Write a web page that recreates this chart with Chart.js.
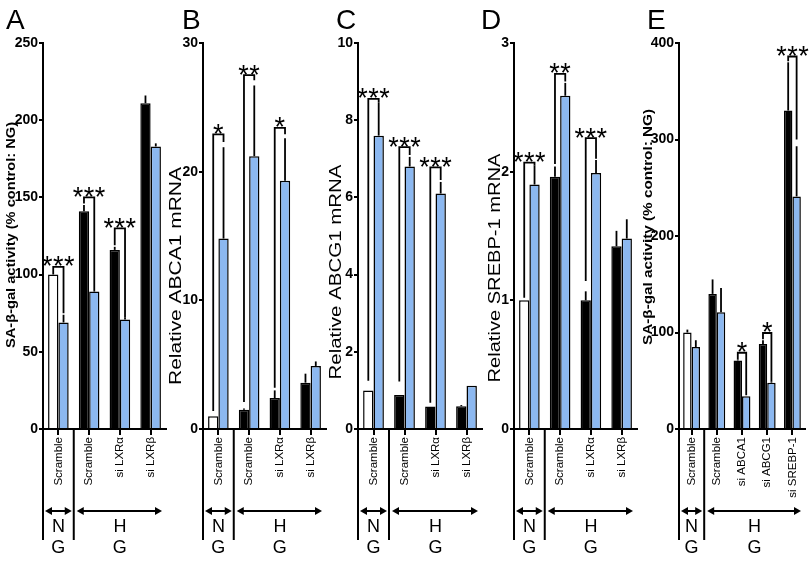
<!DOCTYPE html>
<html><head><meta charset="utf-8">
<script src="https://cdn.jsdelivr.net/npm/chart.js@4.4.1/dist/chart.umd.min.js"></script>
<style>
html,body{margin:0;padding:0;background:#fff;}
#wrap{position:relative;width:812px;height:562px;overflow:hidden;background:#fff;}
canvas{position:absolute;top:0;}
</style></head><body>
<div id="wrap">
<canvas id="cA" width="172" height="562" style="left:0px"></canvas>
<canvas id="cB" width="172" height="562" style="left:160px"></canvas>
<canvas id="cC" width="173" height="562" style="left:315px"></canvas>
<canvas id="cD" width="172" height="562" style="left:471px"></canvas>
<canvas id="cE" width="175" height="562" style="left:636px"></canvas>
</div>
<script>
// ---------- data ----------
const catsLXR = ['Scramble', 'Scramble', 'si LXRα', 'si LXRβ'];
const catsE = ['Scramble', 'Scramble', 'si ABCA1', 'si ABCG1', 'si SREBP-1'];

const ticksA = [0, 50, 100, 150, 200, 250];
const aFirst = [100, 141, 116, 211];
const aFirstErr = [0, 4, 2, 5];
const aBlue = [69, 89, 71, 183];
const aBlueErr = [5, 1, 1, 2];
// [category, bracket value, left leg end, right leg end, label]
const aSig = [[0, 105, 100, 75, '***'], [1, 150, 146, 90, '***'], [2, 130, 119, 72, '***']];

const ticksB = [0, 10, 20, 30];
const bFirst = [1, 1.5, 2.4, 3.6];
const bFirstErr = [0, 0.1, 0.6, 0.7];
const bBlue = [14.8, 21.2, 19.3, 4.9];
const bBlueErr = [7.1, 5.5, 3.3, 0.35];
const bSig = [[0, 22.9, 1.4, 22.3, '*'], [1, 27.5, 2.1, 27.1, '**'], [2, 23.4, 3.2, 22.9, '*']];

const ticksC = [0, 2, 4, 6, 8, 10];
const cFirst = [1.0, 0.88, 0.58, 0.59];
const cFirstErr = [0, 0, 0, 0.03];
const cBlue = [7.6, 6.8, 6.1, 1.12];
const cBlueErr = [0.85, 0.25, 0.3, 0];
const cSig = [[0, 8.55, 1.25, 8.45, '***'], [1, 7.3, 1.23, 7.1, '***'], [2, 6.78, 0.68, 6.45, '***']];

const ticksD = [0, 1, 2, 3];
const dFirst = [1.0, 1.96, 1.0, 1.42];
const dFirstErr = [0, 0.08, 0.07, 0.12];
const dBlue = [1.9, 2.59, 1.99, 1.48];
const dBlueErr = [0.15, 0.1, 0.1, 0.15];
const dSig = [[0, 2.07, 1.02, 2.05, '***'], [1, 2.76, 2.06, 2.7, '**'], [2, 2.26, 1.15, 2.1, '***']];

const ticksE = [0, 100, 200, 300, 400];
const eFirst = [100, 140, 71, 88, 330];
const eFirstErr = [3, 15, 1, 4, 50];
const eBlue = [85, 121, 34, 48, 241];
const eBlueErr = [7, 25, 0, 1, 52];
const eSig = [[2, 79, 72, 35, '*'], [3, 99.5, 93, 49, '*'], [4, 386, 381, 300, '***']];

// ---------- styling ----------
const FONT = '"Liberation Sans", Arial, Helvetica, sans-serif';
const BLUE = '#8cb8f0';
Chart.defaults.font.family = FONT;

// use a narrow face for the category labels if it is installed
const mc = document.createElement('canvas').getContext('2d');
mc.font = '14px "Liberation Sans Narrow", monospace';
const wNarrow = mc.measureText('Scramble').width;
mc.font = '14px monospace';
const wMono = mc.measureText('Scramble').width;
const HAS_NARROW = Math.abs(wNarrow - wMono) > 0.5;
const X_FONT = HAS_NARROW ? { family: '"Liberation Sans Narrow", ' + FONT, size: 14 } : { size: 11.5 };

function arrow(c, x1, x2, y) {
  const hl = 7, hw = 4;
  c.beginPath(); c.moveTo(x1 + hl - 1, y); c.lineTo(x2 - hl + 1, y); c.stroke();
  c.beginPath(); c.moveTo(x1, y); c.lineTo(x1 + hl, y - hw); c.lineTo(x1 + hl, y + hw); c.closePath(); c.fill();
  c.beginPath(); c.moveTo(x2, y); c.lineTo(x2 - hl, y - hw); c.lineTo(x2 - hl, y + hw); c.closePath(); c.fill();
}

function decor(cfg) {
  return {
    id: 'decor' + cfg.id,
    afterDatasetsDraw(chart) {
      const c = chart.ctx, ys = chart.scales.y;
      c.save();
      c.strokeStyle = '#000'; c.fillStyle = '#000'; c.lineWidth = 1.8;
      chart.data.datasets.forEach((ds, di) => {
        const meta = chart.getDatasetMeta(di);
        ds.data.forEach((v, i) => {
          const e = ds.errs[i]; if (!e) return;
          const el = meta.data[i];
          c.beginPath();
          c.moveTo(el.x, ys.getPixelForValue(v));
          c.lineTo(el.x, ys.getPixelForValue(v + e));
          c.stroke();
        });
      });
      const m0 = chart.getDatasetMeta(0), m1 = chart.getDatasetMeta(1);
      cfg.sig.forEach(s => {
        const [i, top, le, re, lab] = s;
        const xl = m0.data[i].x, xr = m1.data[i].x, yt = ys.getPixelForValue(top);
        c.beginPath();
        c.moveTo(xl, ys.getPixelForValue(le)); c.lineTo(xl, yt);
        c.lineTo(xr, yt); c.lineTo(xr, ys.getPixelForValue(re));
        c.stroke();
        c.font = '27px ' + FONT; c.textAlign = 'center'; c.textBaseline = 'alphabetic';
        const cx = (xl + xr) / 2, n = lab.length;
        for (let k = 0; k < n; k++) c.fillText('*', cx + (k - (n - 1) / 2) * 11, yt + 8.5);
      });
      c.restore();
    },
    afterDraw(chart) {
      const c = chart.ctx, a = chart.chartArea;
      const n = chart.data.labels.length;
      const L = a.left, R = a.right, B = a.bottom, cw = (R - L) / n, S = L + cw;
      c.save();
      c.strokeStyle = '#000'; c.fillStyle = '#000'; c.lineWidth = 2;
      c.beginPath(); c.moveTo(L, B); c.lineTo(L, 540); c.moveTo(S, B); c.lineTo(S, 540); c.stroke();
      arrow(c, L + 2, S - 2, 511);
      arrow(c, S + 3, R - 4, 511);
      c.font = '18px ' + FONT; c.textAlign = 'center'; c.textBaseline = 'middle';
      c.fillText('N', (L + S) / 2, 527); c.fillText('G', (L + S) / 2, 548);
      c.fillText('H', (S + R) / 2, 527); c.fillText('G', (S + R) / 2, 548);
      c.font = '28px ' + FONT; c.textAlign = 'left'; c.textBaseline = 'alphabetic';
      c.fillText(cfg.letter, cfg.letterX, 29);
      c.translate(cfg.titleX, cfg.titleY); c.rotate(-Math.PI / 2);
      c.font = cfg.titleFont + ' ' + FONT; c.textAlign = 'center'; c.textBaseline = 'middle';
      const w = c.measureText(cfg.title).width;
      c.scale(cfg.titleLen / w, 1);
      c.fillText(cfg.title, 0, 0);
      c.restore();
    }
  };
}

function makePanel(cfg) {
  const el = document.getElementById(cfg.id);
  const firstColors = cfg.first.map((v, i) => i === 0 ? '#ffffff' : '#000000');
  return new Chart(el, {
    type: 'bar',
    data: {
      labels: cfg.labels,
      datasets: [
        { data: cfg.first, errs: cfg.firstErr, backgroundColor: firstColors, borderColor: '#000', borderWidth: 1.5 },
        { data: cfg.blue, errs: cfg.blueErr, backgroundColor: BLUE, borderColor: '#000', borderWidth: 1.5 }
      ]
    },
    options: {
      responsive: false, animation: false, devicePixelRatio: 1,
      datasets: { bar: { categoryPercentage: 0.67, barPercentage: 1.0 } },
      layout: { padding: { top: 43, right: 6, left: 0, bottom: 0 } },
      plugins: { legend: { display: false }, tooltip: { enabled: false } },
      scales: {
        x: {
          grid: { drawOnChartArea: false, offset: false, tickLength: 6, color: '#000', lineWidth: 2 },
          border: { color: '#000', width: 2 },
          ticks: { autoSkip: false, maxRotation: 90, minRotation: 90, color: '#000', padding: 2, font: X_FONT },
          afterFit: s => { s.height = 133; }
        },
        y: {
          min: 0, max: cfg.ticks[cfg.ticks.length - 1],
          afterBuildTicks: s => { s.ticks = cfg.ticks.map(v => ({ value: v })); },
          grid: { drawOnChartArea: false, tickLength: 4, color: '#000', lineWidth: 2 },
          border: { color: '#000', width: 2 },
          ticks: { color: '#000', padding: 1, font: { size: 14, weight: 'bold' } },
          afterFit: s => { s.width = 43; }
        }
      }
    },
    plugins: [decor(cfg)]
  });
}

makePanel({ id: 'cA', labels: catsLXR, ticks: ticksA, first: aFirst, firstErr: aFirstErr, blue: aBlue, blueErr: aBlueErr, sig: aSig,
  letter: 'A', letterX: 6, title: 'SA-β-gal activity (% control: NG)', titleFont: 'bold 13.5px', titleLen: 226, titleX: 11, titleY: 235 });
makePanel({ id: 'cB', labels: catsLXR, ticks: ticksB, first: bFirst, firstErr: bFirstErr, blue: bBlue, blueErr: bBlueErr, sig: bSig,
  letter: 'B', letterX: 22, title: 'Relative ABCA1 mRNA', titleFont: '16px', titleLen: 218, titleX: 17, titleY: 276 });
makePanel({ id: 'cC', labels: catsLXR, ticks: ticksC, first: cFirst, firstErr: cFirstErr, blue: cBlue, blueErr: cBlueErr, sig: cSig,
  letter: 'C', letterX: 21, title: 'Relative ABCG1 mRNA', titleFont: '16px', titleLen: 215, titleX: 22, titleY: 272 });
makePanel({ id: 'cD', labels: catsLXR, ticks: ticksD, first: dFirst, firstErr: dFirstErr, blue: dBlue, blueErr: dBlueErr, sig: dSig,
  letter: 'D', letterX: 10, title: 'Relative SREBP-1 mRNA', titleFont: '16px', titleLen: 229, titleX: 25, titleY: 268 });
makePanel({ id: 'cE', labels: catsE, ticks: ticksE, first: eFirst, firstErr: eFirstErr, blue: eBlue, blueErr: eBlueErr, sig: eSig,
  letter: 'E', letterX: 11, title: 'SA-β-gal activity (% control: NG)', titleFont: 'bold 13.5px', titleLen: 236, titleX: 12, titleY: 227 });
</script>
</body></html>
